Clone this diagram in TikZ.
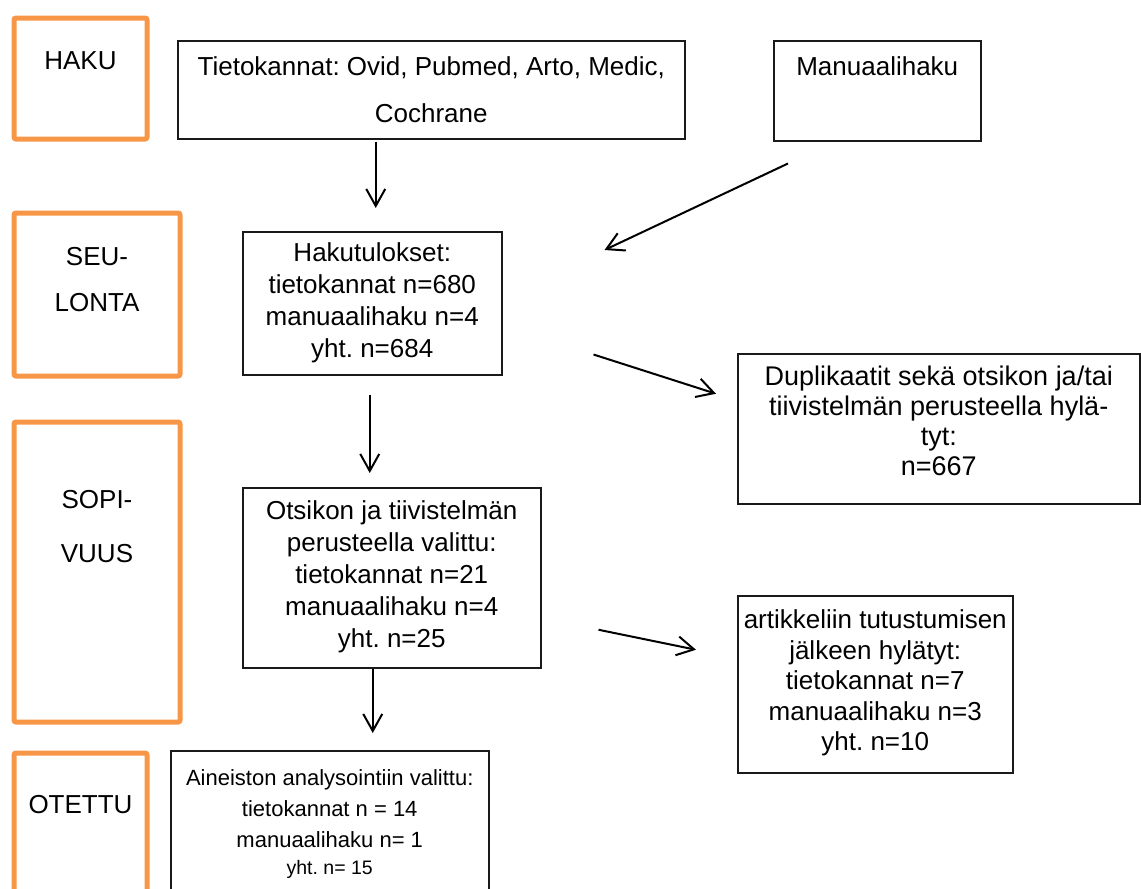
\documentclass[tikz,border=0pt]{standalone}
\usepackage{fontspec}
\setmainfont{Liberation Sans}
\usepackage{tikz}
\usetikzlibrary{arrows.meta}
\definecolor{phaseOrange}{HTML}{F79646}
\definecolor{boxBlack}{HTML}{1A1A1A}
\frenchspacing

\begin{document}
\begin{tikzpicture}[x=1pt, y=-1pt,
  every node/.style={font=\fontsize{26}{32}\selectfont, inner sep=0pt,
                     align=center, anchor=north west},
  phase/.style={draw=phaseOrange, line width=5pt, rounded corners=2pt,
                font=\fontsize{26}{46}\selectfont},
  stage/.style={draw=boxBlack, line width=1.5pt},
  arr/.style={-{Straight Barb[length=17pt, width=19pt]}, line width=2pt},
]
\useasboundingbox (0,0) rectangle (1141,889);
\clip (0,0) rectangle (1141,889);

% Phases
\node[phase, minimum width=133pt, text height=51.5pt, text depth=69.5pt] (haku) at (11.5,15.5) {HAKU};
\node[phase, minimum width=166pt, text height=98.5pt, text depth=64.5pt] (seu) at (11.5,210.5) {SEU-\\LONTA};
\node[phase, minimum width=166pt, text height=140.5pt, text depth=159.5pt] (sopi) at (11.5,419.5) {SOPI-\\[8pt]VUUS};
\node[phase, minimum width=133pt, text height=60.5pt, text depth=120pt] (otettu) at (11.5,750.5) {OTETTU};

% Stages
\node[stage, minimum width=507pt, text height=82pt, text depth=16pt,
      font=\fontsize{26}{47}\selectfont] (tieto) at (177,40)
  {Tietokannat: Ovid, Pubmed, Arto, Medic,\\Cochrane};
\node[stage, minimum width=207pt, text height=35pt, text depth=65pt] (manu) at (773,40) {Manuaalihaku};
\node[stage, minimum width=259pt, text height=125.5pt, text depth=17.5pt] (hakut) at (242,231)
  {Hakutulokset:\\tietokannat n=680\\manuaalihaku n=4\\yht. n=684};
\node[stage, minimum width=402pt, text height=122pt, text depth=28pt,
      font=\fontsize{27}{30}\selectfont] (dup) at (737,353)
  {Duplikaatit sekä otsikon ja/tai\\tiivistelmän perusteella hylä-\\tyt:\\n=667};
\node[stage, minimum width=298pt, text height=160pt, text depth=20pt] (otsikon) at (242,487)
  {Otsikon ja tiivistelmän\\perusteella valittu:\\tietokannat n=21\\manuaalihaku n=4\\yht. n=25};
\node[stage, minimum width=275pt, text height=155pt, text depth=22pt,
      font=\fontsize{26}{30.5}\selectfont] (art) at (737,595)
  {artikkeliin tutustumisen\\jälkeen hylätyt:\\tietokannat n=7\\manuaalihaku n=3\\yht. n=10};
\node[stage, minimum width=318pt, text height=124pt, text depth=46pt,
      font=\fontsize{22}{31}\selectfont] (aine) at (170,750)
  {Aineiston analysointiin valittu:\\tietokannat n = 14\\manuaalihaku n= 1\\[-4pt]{\fontsize{19.5}{24}\selectfont yht. n= 15}};

% Arrows
\draw[arr, shorten <=2pt, shorten >=23pt] ([xshift=-55.5pt]tieto.south) -- ([xshift=3.5pt]hakut.north);
\draw[arr] ([xshift=15pt, yshift=-22pt]manu.south west) -- ([xshift=102pt, yshift=-19pt]hakut.north east);
\draw[arr, shorten <=19pt, shorten >=14pt] ([xshift=-2.5pt]hakut.south) -- ([xshift=-22pt]otsikon.north);
\draw[arr] ([xshift=91pt, yshift=21pt]hakut.south east) -- ([xshift=-21pt, yshift=35pt]dup.west);
\draw[arr, shorten >=17pt] ([xshift=-19pt]otsikon.south) -- ([xshift=43pt]aine.north);
\draw[arr] ([xshift=57pt, yshift=-52pt]otsikon.east) -- ([xshift=-41pt, yshift=34.5pt]art.west);

\end{tikzpicture}
\end{document}
